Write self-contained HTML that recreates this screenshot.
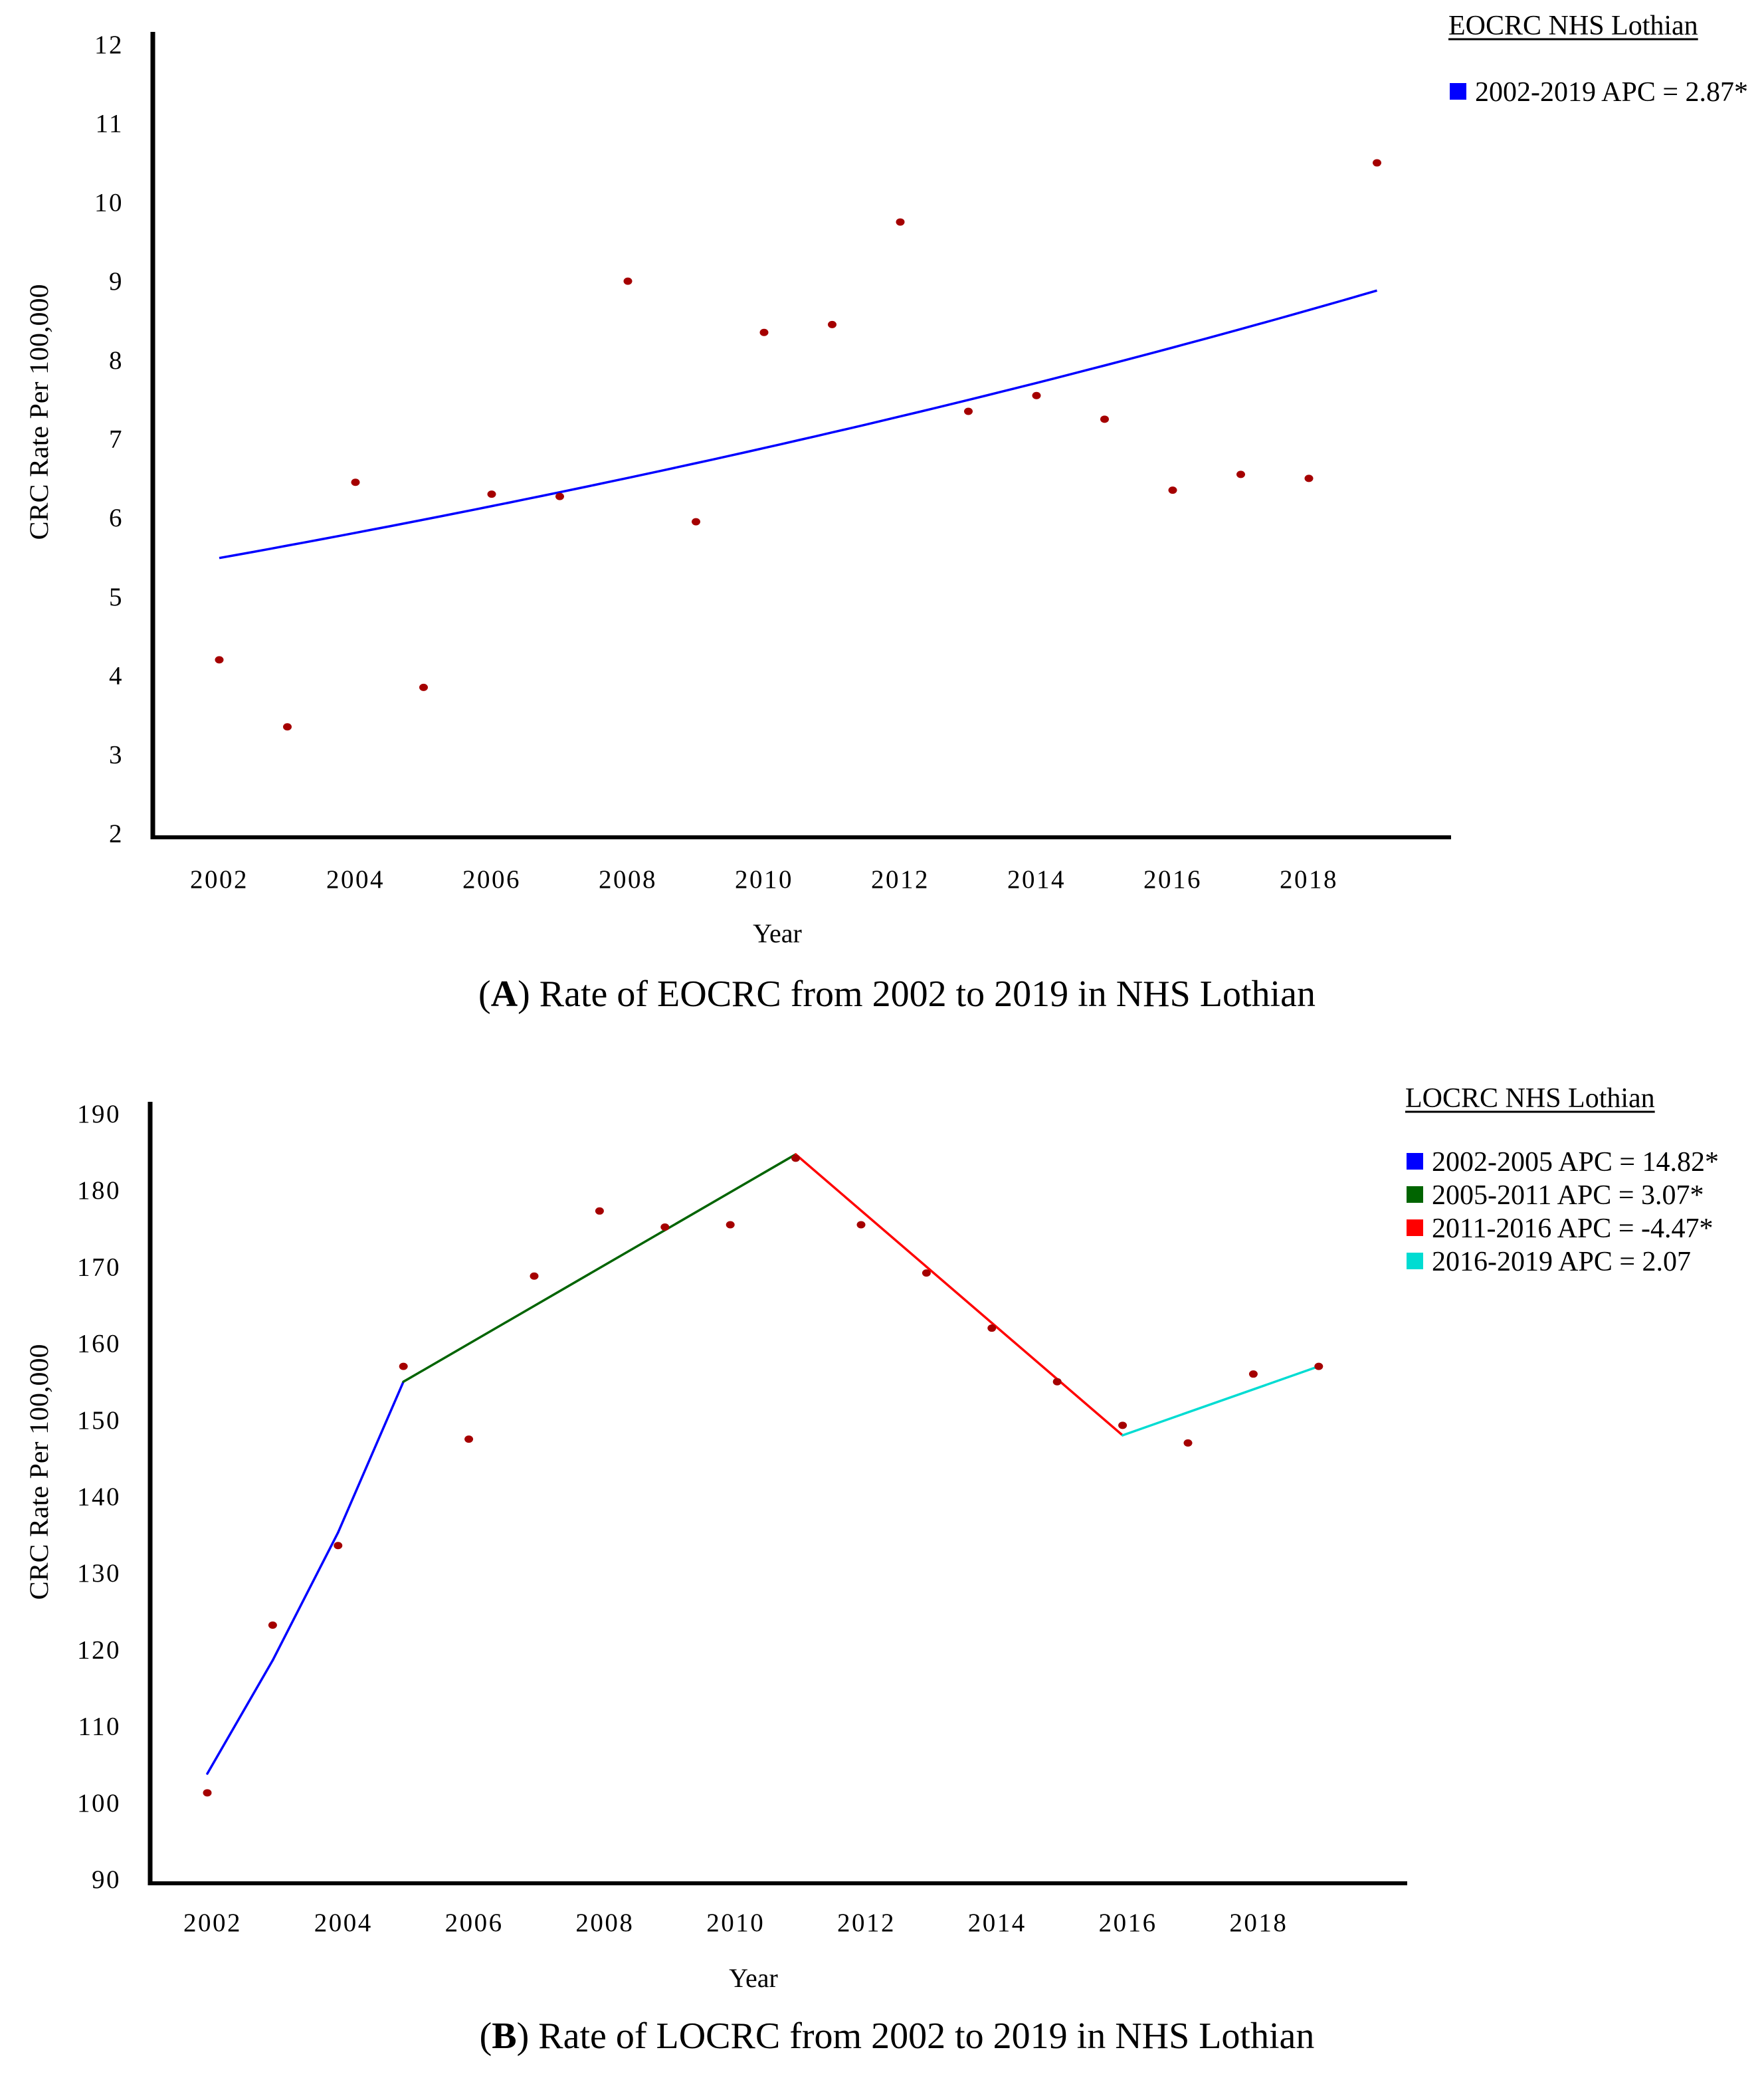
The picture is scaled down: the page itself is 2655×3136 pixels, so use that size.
<!DOCTYPE html>
<html><head><meta charset="utf-8"><style>
html,body{margin:0;padding:0;background:#fff;}
svg{display:block;font-family:"Liberation Serif",serif;}
</style></head><body>
<svg id="root" width="2655" height="3136" viewBox="0 0 2655 3136" xmlns="http://www.w3.org/2000/svg">
<g id="chartA"></g>
<g id="chartB"></g>
</svg>
<script>
const yearsA = [2002,2003,2004,2005,2006,2007,2008,2009,2010,2011,2012,2013,2014,2015,2016,2017,2018,2019];
const ratesA = [4.2,3.35,6.45,3.85,6.3,6.27,9.0,5.95,8.35,8.45,9.75,7.35,7.55,7.25,6.35,6.55,6.5,10.5];
const fitStartA = [5.49];
const apcA = [2.87];
const yTicksA = [2,3,4,5,6,7,8,9,10,11,12];
const xTicksA = [2002,2004,2006,2008,2010,2012,2014,2016,2018];

const yearsB = [2002,2003,2004,2005,2006,2007,2008,2009,2010,2011,2012,2013,2014,2015,2016,2017,2018,2019];
const ratesB = [101.3,123.2,133.6,157,147.5,168.8,177.3,175.2,175.5,184.2,175.5,169.2,162,155,149.3,147,156,157];
const joinYearsB = [2002,2003,2004,2005,2011,2016,2019];
const joinValuesB = [103.8,118.6,135.3,155,184.7,148,157];
const segColorsB = ['#0000ff','#0000ff','#0000ff','#006400','#ff0000','#00dcd2'];
const yTicksB = [90,100,110,120,130,140,150,160,170,180,190];
const xTicksB = [2002,2004,2006,2008,2010,2012,2014,2016,2018];

const NS='http://www.w3.org/2000/svg';
function mk(parent,tag,attrs,text){const e=document.createElementNS(NS,tag);for(const k in attrs)e.setAttribute(k,attrs[k]);if(text!==undefined)e.textContent=text;parent.appendChild(e);return e;}

function drawChart(g,cfg){
  const xs=y=>cfg.x0+(y-cfg.years0)*cfg.dx;
  const ys=v=>cfg.yBot-(v-cfg.vMin)/(cfg.vMax-cfg.vMin)*(cfg.yBot-cfg.yTop);
  let a=mk(g,'line',{x1:cfg.axX,y1:cfg.axTop,x2:cfg.axX,y2:cfg.axY+3,stroke:'#000','stroke-width':7});
  
  
  a=mk(g,'line',{x1:cfg.axX-3,y1:cfg.axY,x2:cfg.axRight,y2:cfg.axY,stroke:'#000','stroke-width':6});
  
  
  cfg.yTicks.forEach(t=>{
    const e=mk(g,'text',{x:cfg.axX-44,y:ys(t)+13,'text-anchor':'end','font-size':39,fill:'#000','letter-spacing':2.5},String(t));
    
    
  });
  cfg.xTicks.forEach(t=>{
    const e=mk(g,'text',{x:xs(t)+cfg.labOff,y:cfg.xLabY,'text-anchor':'middle','font-size':39,fill:'#000','letter-spacing':2.5},String(t));
    
    
  });
  let t=mk(g,'text',{x:cfg.xTitleX,y:cfg.xTitleY,'text-anchor':'middle','font-size':40,fill:'#000'},'Year');
  
  
  t=mk(g,'text',{x:0,y:0,'text-anchor':'middle','font-size':40,fill:'#000',textLength:385,lengthAdjust:'spacingAndGlyphs',transform:`translate(${cfg.yTitleX},${cfg.yTitleY}) rotate(-90)`},'CRC Rate Per 100,000');
  
  
  cfg.drawLines(g,xs,ys);
  cfg.years.forEach((yr,i)=>{
    const d=mk(g,'ellipse',{cx:xs(yr),cy:ys(cfg.rates[i]),rx:6.5,ry:5.5,fill:'#a50000'});
    
    
  });
  t=mk(g,'text',{x:cfg.legX,y:cfg.legY,'font-size':42,fill:'#000'},cfg.legTitle);
  
  
  const bb=t.getBBox();
  mk(g,'line',{x1:cfg.legX,y1:cfg.legY+7,x2:cfg.legX+bb.width,y2:cfg.legY+7,stroke:'#000','stroke-width':3});
  cfg.legEntries.forEach((en,i)=>{
    const y=cfg.legEntryY+i*50;
    const s=mk(g,'rect',{x:cfg.legX+2,y:y-27,width:25,height:25,fill:en.color});
    
    
    const tx=mk(g,'text',{x:cfg.legX+40,y:y,'font-size':42,fill:'#000'},en.label);
    
    
  });
  const cap=mk(g,'text',{x:1350,y:cfg.capY,'text-anchor':'middle','font-size':56,fill:'#000'});
  
  
  mk(cap,'tspan',{},'(');
  mk(cap,'tspan',{'font-weight':'bold'},cfg.capLetter);
  mk(cap,'tspan',{},') '+cfg.capText);
}

drawChart(document.getElementById('chartA'),{
  x0:330,years0:2002,dx:102.5,vMin:2,vMax:12,yBot:1254,yTop:67,
  axX:230,axTop:48,axY:1260,axRight:2184,labOff:0,xLabY:1336,
  xTitleX:1170,xTitleY:1418,yTitleX:72,yTitleY:620,
  yTicks:yTicksA,xTicks:xTicksA,years:yearsA,rates:ratesA,
  drawLines:(g,xs,ys)=>{
    const y0=yearsA[0],y1=yearsA[yearsA.length-1];let pts=[];
    for(let k=0;k<=68;k++){const yr=y0+(y1-y0)*k/68;pts.push(xs(yr).toFixed(1)+','+ys(fitStartA[0]*Math.pow(1+apcA[0]/100,yr-y0)).toFixed(1));}
    const p=mk(g,'polyline',{points:pts.join(' '),fill:'none',stroke:'#0000ff','stroke-width':3.5});
    
    
  },
  legX:2180,legY:52,legTitle:'EOCRC NHS Lothian',legEntryY:152,
  legEntries:[{color:'#0000ff',label:'2002-2019 APC = 2.87*'}],
  capY:1514,capLetter:'A',capText:'Rate of EOCRC from 2002 to 2019 in NHS Lothian'
});

drawChart(document.getElementById('chartB'),{
  x0:312,years0:2002,dx:98.4,vMin:90,vMax:190,yBot:2828,yTop:1676,
  axX:226,axTop:1658,axY:2834,axRight:2118,labOff:8,xLabY:2906,
  xTitleX:1134,xTitleY:2990,yTitleX:72,yTitleY:2215,
  yTicks:yTicksB,xTicks:xTicksB,years:yearsB,rates:ratesB,
  drawLines:(g,xs,ys)=>{
    for(let i=0;i<joinYearsB.length-1;i++){
      const l=mk(g,'line',{x1:xs(joinYearsB[i]),y1:ys(joinValuesB[i]),x2:xs(joinYearsB[i+1]),y2:ys(joinValuesB[i+1]),stroke:segColorsB[i],'stroke-width':3.5,'stroke-linecap':'round'});
      
      
    }
  },
  legX:2115,legY:1666,legTitle:'LOCRC NHS Lothian',legEntryY:1762,
  legEntries:[{color:'#0000ff',label:'2002-2005 APC = 14.82*'},{color:'#006400',label:'2005-2011 APC = 3.07*'},{color:'#ff0000',label:'2011-2016 APC = -4.47*'},{color:'#00dcd2',label:'2016-2019 APC = 2.07'}],
  capY:3082,capLetter:'B',capText:'Rate of LOCRC from 2002 to 2019 in NHS Lothian'
});
</script>
</body></html>
